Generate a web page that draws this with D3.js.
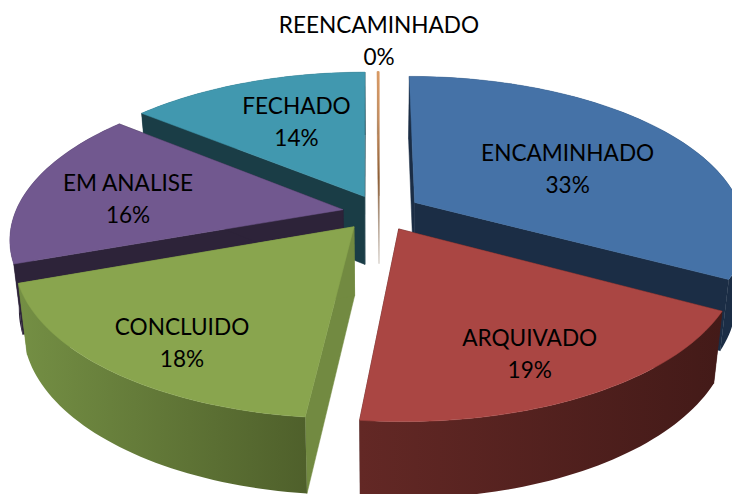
<!DOCTYPE html>
<html>
<head>
<meta charset="utf-8">
<script src="https://d3js.org/d3.v7.min.js"></script>
<style>
  html, body { margin: 0; padding: 0; background: #fff; }
  svg { display: block; }
  text { font-family: Lato, "Open Sans", sans-serif; font-size: 22.6px; fill: #000; text-anchor: middle; }
</style>
</head>
<body>
<div id="chart"></div>
<script>
// Chart data
const categories = ['ENCAMINHADO', 'ARQUIVADO', 'CONCLUIDO', 'EM ANALISE', 'FECHADO', 'REENCAMINHADO'];
const values = [32.9, 18.8, 17.8, 16.4, 14.0, 0.1];
const percentLabels = ['33%', '19%', '18%', '16%', '14%', '0%'];

// Colours per slice: top, cut faces, outer wall left and right
const topColors = ['#4572a7', '#aa4643', '#89a54e', '#71588f', '#4198af', '#db843d'];
const cutColors = ['#1b2d45', '#441b1a', '#728a41', '#2d2339', '#1a3d46', '#a08a70'];
const wallLeft = ['#1b2d45', '#632825', '#748f44', '#2d2339', '#1a3d46', '#a08a70'];
const wallRight = ['#1b2d45', '#431a18', '#4f602b', '#2d2339', '#1a3d46', '#a08a70'];

// How far each slice is pulled out, in pie radii (x, towards the viewer)
const explode = [[0.11, -0.07], [0.059, 0.103], [-0.075, 0.089], [-0.11, -0.022], [-0.045, -0.11], [0, -0.115]];
// Label centre relative to the slice apex
const labelShift = [[153, -41], [131, 117], [-172, 108], [-215, -19], [-68, -83], [0, -163]];
// Painter's order, back to front
const drawOrder = [4, 3, 5, 0, 2, 1];

const width = 732;
const height = 494;

const svg = d3.select('#chart').append('svg')
  .attr('width', width)
  .attr('height', height);

// z = 0 is the top face of the pie, z = 1 the bottom
const centerY = d3.scaleLinear().domain([0, 1]).range([213, 281.5]);
const radiusY = d3.scaleLinear().domain([0, 1]).range([152, 158]);
const radiusX = d3.scaleLinear().domain([0, 1]).range([328, 320]);
const centerX = 379;
const perspective = 0.178;

function project(u, v, z) {
  const s = 1 / (1 - perspective * v);
  return [centerX + radiusX(z) * u * s, centerY(z) + radiusY(z) * v * s];
}

const pie = d3.pie().sort(null).value(d => d);
const arcs = pie(values);
const line = d3.line().curve(d3.curveLinearClosed);

// points along the rim of a slice
function rim(d, off, z) {
  const n = Math.max(2, Math.ceil((d.endAngle - d.startAngle) * 40));
  return d3.range(n + 1).map(i => {
    const a = d.startAngle + (d.endAngle - d.startAngle) * i / n;
    return project(Math.sin(a) + off[0], -Math.cos(a) + off[1], z);
  });
}

const defs = svg.append('defs');

// the 0% sliver fades out towards the bottom
const sliverY = [project(0, -1.115, 0)[1], project(0, -0.115, 1)[1]];
const sliver = defs.append('linearGradient')
  .attr('id', 'sliver')
  .attr('gradientUnits', 'userSpaceOnUse')
  .attr('x1', 0).attr('x2', 0)
  .attr('y1', sliverY[0]).attr('y2', sliverY[1]);
[[0, '#dc9a62'], [0.25, '#c98e5e'], [0.55, '#8a5a30'], [0.75, '#a58d78'], [1, '#d8d2cc']].forEach(s => {
  sliver.append('stop').attr('offset', s[0]).attr('stop-color', s[1]);
});

drawOrder.forEach(i => {
  const d = arcs[i];
  const off = explode[i];
  const g = svg.append('g');
  const isSliver = d.endAngle - d.startAngle < 0.01;

  const apexTop = project(off[0], off[1], 0);
  const apexBottom = project(off[0], off[1], 1);
  const rimTop = rim(d, off, 0);
  const rimBottom = rim(d, off, 1);

  // the two cut faces
  const cutFill = isSliver ? 'url(#sliver)' : cutColors[i];
  [[rimTop[0], rimBottom[0]], [rimTop[rimTop.length - 1], rimBottom[rimBottom.length - 1]]].forEach(e => {
    g.append('path')
      .attr('d', line([apexTop, e[0], e[1], apexBottom]))
      .attr('fill', cutFill)
      .attr('stroke', cutFill)
      .attr('stroke-width', 0.5);
  });

  // outer wall with a left to right gradient
  const xs = d3.extent(rimTop, p => p[0]);
  const grad = defs.append('linearGradient')
    .attr('id', 'wall' + i)
    .attr('gradientUnits', 'userSpaceOnUse')
    .attr('x1', xs[0]).attr('x2', xs[1] + 0.01)
    .attr('y1', 0).attr('y2', 0);
  grad.append('stop').attr('offset', 0).attr('stop-color', wallLeft[i]);
  grad.append('stop').attr('offset', 1).attr('stop-color', wallRight[i]);

  g.append('path')
    .attr('d', line(rimTop.concat(rimBottom.slice().reverse())))
    .attr('fill', `url(#wall${i})`);

  // top face
  const topFill = isSliver ? 'url(#sliver)' : topColors[i];
  g.append('path')
    .attr('d', line([apexTop].concat(rimTop)))
    .attr('fill', topFill)
    .attr('stroke', topFill)
    .attr('stroke-width', 0.5);
});

// Labels go on top of everything
arcs.forEach((d, i) => {
  const apex = project(explode[i][0], explode[i][1], 0);
  const x = apex[0] + labelShift[i][0];
  const y = apex[1] + labelShift[i][1];
  const label = svg.append('text').attr('x', x).attr('y', y);
  label.append('tspan').attr('x', x).attr('dy', 0).text(categories[i]);
  label.append('tspan').attr('x', x).attr('dy', 32).text(percentLabels[i]);
});
</script>
</body>
</html>
